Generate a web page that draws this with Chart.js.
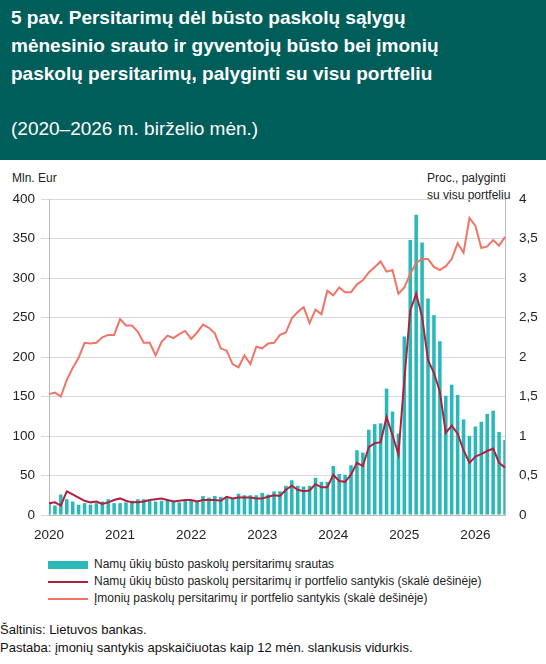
<!DOCTYPE html>
<html><head><meta charset="utf-8">
<script src="https://cdn.jsdelivr.net/npm/chart.js@4"></script>
<style>
body{margin:0;width:546px;height:664px;overflow:hidden;font-family:"Liberation Sans",Arial,sans-serif;background:#fff;position:relative}
#hdr{position:absolute;left:0;top:0;width:546px;height:160px;background:#005e5a;color:#fff}
#t{position:absolute;left:11px;top:4px;font-size:19px;font-weight:bold;line-height:28px;white-space:nowrap}
#s{position:absolute;left:11px;top:118px;font-size:19px}
.ax{position:absolute;font-size:12px;color:#222;line-height:17px}
#cw{position:absolute;left:0;top:165px;width:546px;height:380px}
.lg{position:absolute;left:48px;font-size:12px;color:#222}
.lg i{display:inline-block;width:40px;vertical-align:middle;margin-right:6px}
.ft{position:absolute;left:0;font-size:13px;color:#111}
</style></head><body>
<div id="hdr"><div id="t">5 pav. Persitarimų dėl būsto paskolų sąlygų<br>mėnesinio srauto ir gyventojų būsto bei įmonių<br>paskolų persitarimų, palyginti su visu portfeliu</div>
<div id="s">(2020–2026 m. birželio mėn.)</div></div>
<div class="ax" style="left:12px;top:170px">Mln. Eur</div>
<div class="ax" style="left:427px;top:170px">Proc., palyginti<br>su visu portfeliu</div>
<div id="cw"><canvas id="c" width="546" height="380"></canvas></div>
<div class="lg" style="top:557px"><i style="height:8px;background:#2bb8b8"></i>Namų ūkių būsto paskolų persitarimų srautas</div>
<div class="lg" style="top:574px"><i style="height:2px;background:#b0203f"></i>Namų ūkių būsto paskolų persitarimų ir portfelio santykis (skalė dešinėje)</div>
<div class="lg" style="top:591px"><i style="height:2px;background:#f07468"></i>Įmonių paskolų persitarimų ir portfelio santykis (skalė dešinėje)</div>
<div class="ft" style="top:622px">Šaltinis: Lietuvos bankas.</div>
<div class="ft" style="top:640px">Pastaba: įmonių santykis apskaičiuotas kaip 12 mėn. slankusis vidurkis.</div>
<script>
const years=[2020,2021,2022,2023,2024,2025,2026];
const labels=[];for(let i=0;i<78;i++){labels.push(i%12===0?String(years[i/12]):'');}
const flows=[14,12,26,20,17,13,15,13,15,17,20,15,15,16,18,20,20,18,17,18,19,18,16,18,19,18,24,22,24,23,23,21,27,25,25,25,28,26,
30,30,37,44,37,36,37,47,42,42,62,52,51,63,82,79,108,115,116,160,131,103,226,348,380,345,274,253,220,151,165,152,121,100,112,118,128,132,105,95];
const hhRatio=[0.15,0.16,0.12,0.30,0.26,0.22,0.18,0.16,0.17,0.14,0.16,0.19,0.21,0.18,0.16,0.16,0.17,0.19,0.20,0.21,0.19,0.17,0.18,0.19,0.19,0.17,0.19,0.19,0.19,0.18,0.23,0.21,0.22,0.22,0.22,0.21,0.21,0.23,
0.25,0.24,0.32,0.37,0.32,0.30,0.31,0.39,0.35,0.35,0.51,0.43,0.42,0.51,0.66,0.62,0.86,0.91,0.92,1.24,1.01,0.77,1.71,2.59,2.80,2.51,1.96,1.80,1.56,1.04,1.13,1.03,0.82,0.66,0.74,0.77,0.81,0.84,0.66,0.60];
const corpRatio=[1.53,1.55,1.50,1.71,1.86,1.99,2.18,2.17,2.18,2.25,2.28,2.28,2.48,2.40,2.40,2.32,2.18,2.18,2.02,2.19,2.27,2.24,2.29,2.33,2.23,2.31,2.41,2.37,2.30,2.11,2.08,1.91,1.87,2.02,1.91,2.13,2.11,2.17,
2.18,2.28,2.31,2.49,2.57,2.63,2.43,2.60,2.54,2.84,2.78,2.88,2.82,2.82,2.92,2.97,3.07,3.14,3.21,3.08,3.10,2.80,2.88,3.05,3.19,3.24,3.24,3.14,3.10,3.15,3.24,3.44,3.32,3.76,3.66,3.38,3.40,3.48,3.41,3.52];
const font={family:'"Liberation Sans", Arial, sans-serif',size:13.5};
new Chart(document.getElementById('c'),{
data:{labels,datasets:[
{type:'line',data:corpRatio,yAxisID:'y1',borderColor:'#f07468',borderWidth:2,pointRadius:0,tension:0,order:1},
{type:'line',data:hhRatio,yAxisID:'y1',borderColor:'#b0203f',borderWidth:2,pointRadius:0,tension:0,order:0},
{type:'bar',data:flows,yAxisID:'y',backgroundColor:'#2bb8b8',barPercentage:0.6,categoryPercentage:1,order:2}
]},
options:{responsive:false,animation:false,layout:{padding:{top:34,left:0,right:0,bottom:0}},
plugins:{legend:{display:false},tooltip:{enabled:false}},
scales:{
x:{offset:false,grid:{display:false},border:{color:'#bbb'},ticks:{autoSkip:false,maxRotation:0,color:'#222',font,padding:4},afterFit:s=>{s.height=30}},
y:{min:0,max:400,position:'left',ticks:{stepSize:50,color:'#222',font,padding:6},grid:{color:'#d9d9d9'},border:{color:'#bbb'},afterFit:s=>{s.width=49}},
y1:{min:0,max:4,position:'right',ticks:{stepSize:0.5,color:'#222',font,padding:6,callback:v=>String(v).replace('.',',')},grid:{display:false},border:{color:'#bbb'},afterFit:s=>{s.width=41}}
}}});
</script></body></html>
